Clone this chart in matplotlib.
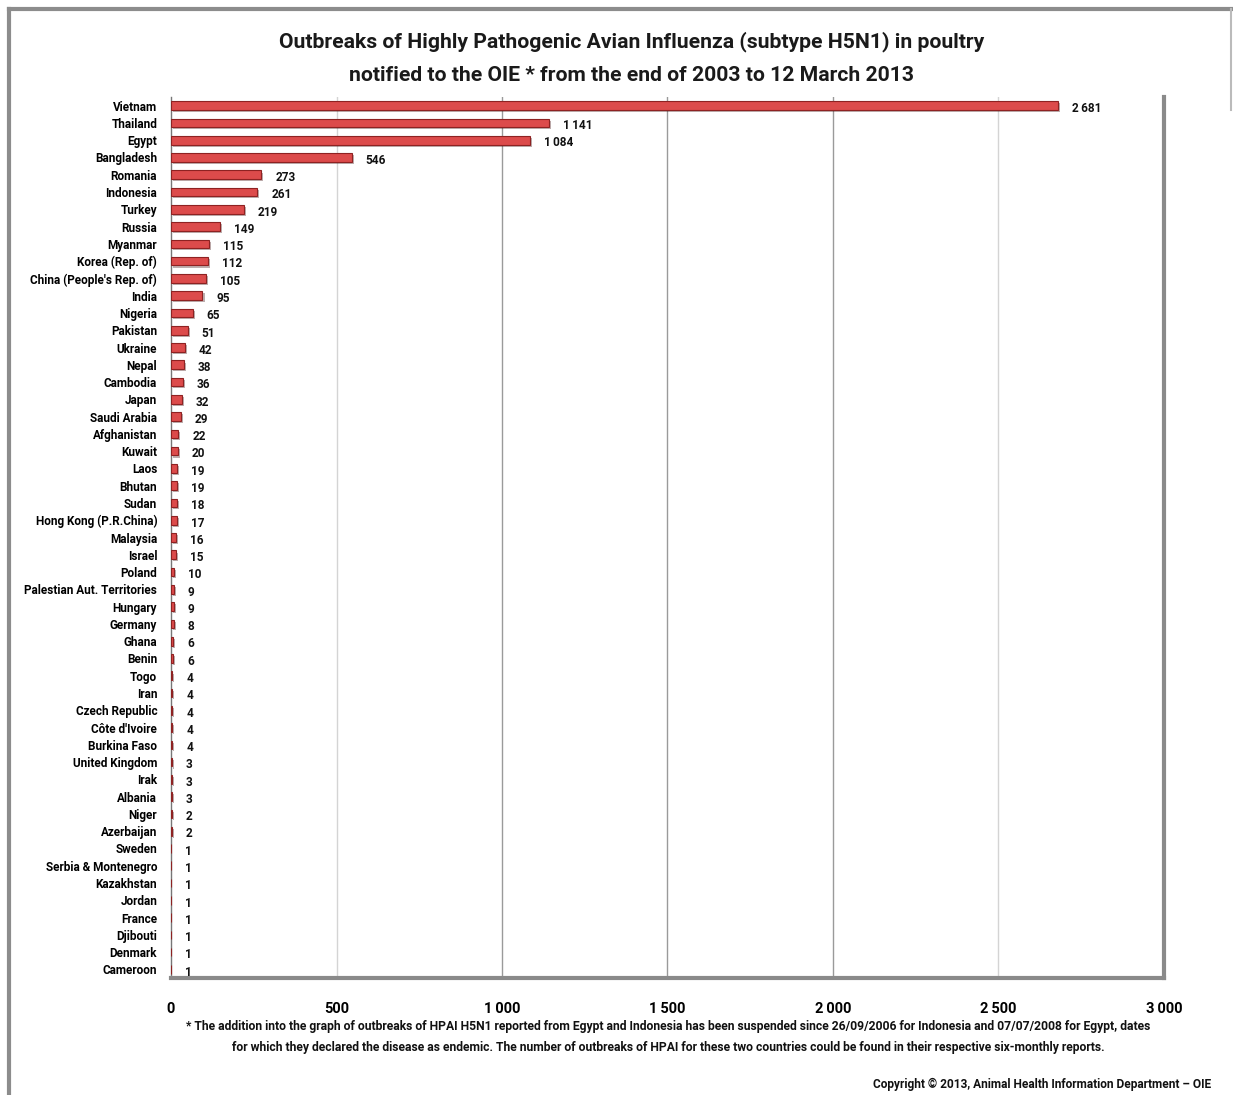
import matplotlib
matplotlib.use("Agg")
import matplotlib.pyplot as plt
import matplotlib.patheffects as pe
from matplotlib.lines import Line2D

countries = ["Vietnam", "Thailand", "Egypt", "Bangladesh", "Romania", "Indonesia", "Turkey",
             "Russia", "Myanmar", "Korea (Rep. of)", "China (People's Rep. of)", "India",
             "Nigeria", "Pakistan", "Ukraine", "Nepal", "Cambodia", "Japan", "Saudi Arabia",
             "Afghanistan", "Kuwait", "Laos", "Bhutan", "Sudan", "Hong Kong (P.R.China)",
             "Malaysia", "Israel", "Poland", "Palestian Aut. Territories", "Hungary", "Germany",
             "Ghana", "Benin", "Togo", "Iran", "Czech Republic", "Côte d'Ivoire", "Burkina Faso",
             "United Kingdom", "Irak", "Albania", "Niger", "Azerbaijan", "Sweden",
             "Serbia & Montenegro", "Kazakhstan", "Jordan", "France", "Djibouti", "Denmark",
             "Cameroon"]
outbreaks = [2681, 1141, 1084, 546, 273, 261, 219, 149, 115, 112, 105, 95, 65, 51, 42, 38, 36,
             32, 29, 22, 20, 19, 19, 18, 17, 16, 15, 10, 9, 9, 8, 6, 6, 4, 4, 4, 4, 4, 3, 3, 3,
             2, 2, 1, 1, 1, 1, 1, 1, 1, 1]
xticks = [0, 500, 1000, 1500, 2000, 2500, 3000]

plt.rcParams['font.family'] = ['Roboto', 'DejaVu Sans']
plt.rcParams['font.weight'] = 'bold'


def fmt(v):
    return f"{v:,}".replace(",", "\u2009")


fig = plt.figure(figsize=(12.33, 10.95), dpi=100)
ax = fig.add_axes([0.1387, 0.1068, 0.8053, 0.8046])

ypos = list(range(len(countries)))
bars = ax.barh(ypos, outbreaks, height=0.5, color="#dc4b4b", edgecolor="#8e2222",
               linewidth=0.8, zorder=3)
for b in bars:
    b.set_path_effects([pe.SimplePatchShadow(offset=(1.5, -1.5), alpha=0.35), pe.Normal()])

for y, v in zip(ypos, outbreaks):
    ax.annotate(fmt(v), (v, y), xytext=(10, -2), textcoords="offset points",
                va="center", ha="left", fontsize=8.5, fontweight="bold", color="#111111")

ax.set_xlim(0, 3000)
ax.set_ylim(len(countries) - 0.5, -0.5)
ax.set_yticks(ypos)
ax.set_yticklabels(countries, fontsize=8.5, fontweight="bold")
ax.set_xticks(xticks)
ax.set_xticklabels([fmt(t) for t in xticks], fontsize=10.5, fontweight="bold")
ax.tick_params(axis="y", length=0, pad=10)
ax.tick_params(axis="x", length=0, pad=17)

# gridlines: the outer two are drawn lighter in the original
grid_colors = ["#d4d4d4", "#9a9a9a", "#9a9a9a", "#9a9a9a", "#d4d4d4"]
for t, c in zip(xticks[1:-1], grid_colors):
    ax.axvline(t, color=c, linewidth=1, zorder=1)

ax.spines["top"].set_visible(False)
ax.spines["left"].set_color("#777777")
ax.spines["left"].set_linewidth(1)
ax.spines["bottom"].set_color("#8a8a8a")
ax.spines["bottom"].set_linewidth(3)
ax.spines["right"].set_color("#8a8a8a")
ax.spines["right"].set_linewidth(3)

fig.text(0.512, 0.962, "Outbreaks of Highly Pathogenic Avian Influenza (subtype H5N1) in poultry",
         ha="center", va="center", fontsize=15.2, fontweight="bold", color="#1a1a1a")
fig.text(0.512, 0.931, "notified to the OIE * from the end of 2003 to 12 March 2013",
         ha="center", va="center", fontsize=15.2, fontweight="bold", color="#1a1a1a")

fig.text(0.542, 0.063,
         "* The addition into the graph of outbreaks of HPAI H5N1 reported from Egypt and Indonesia has been "
         "suspended since 26/09/2006 for Indonesia and 07/07/2008 for Egypt, dates",
         ha="center", va="center", fontsize=8.7, fontweight="bold", color="#111111")
fig.text(0.542, 0.043,
         "for which they declared the disease as endemic. The number of outbreaks of HPAI for these two "
         "countries could be found in their respective six-monthly reports.",
         ha="center", va="center", fontsize=8.7, fontweight="bold", color="#111111")
fig.text(0.982, 0.010, "Copyright \u00a9 2013, Animal Health Information Department \u2013 OIE",
         ha="right", va="center", fontsize=8.6, fontweight="bold", color="#111111")

# outer frame
frame = dict(color="#8c8c8c", linewidth=3, transform=fig.transFigure)
fig.add_artist(Line2D([0.0073, 0.0073], [0.0, 0.992], **frame))
fig.add_artist(Line2D([0.0073, 0.999], [0.992, 0.992], **frame))
fig.add_artist(Line2D([0.9985, 0.9985], [0.992, 0.9], color="#bbbbbb", linewidth=1.5,
                      transform=fig.transFigure))

fig.savefig("out.png", dpi=100)
